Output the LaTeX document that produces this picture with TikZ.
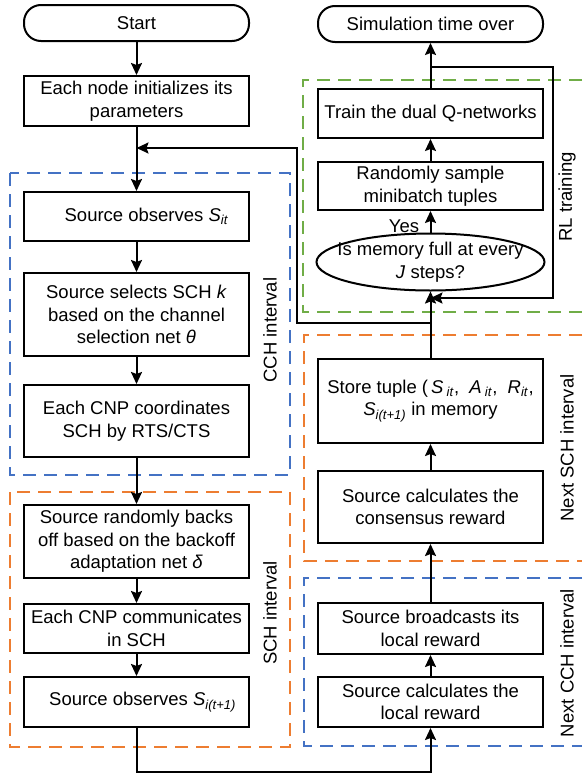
\documentclass[tikz,border=0pt]{standalone}
\usepackage{fontspec}
\setmainfont{Liberation Sans}
\usetikzlibrary{arrows.meta,shapes.geometric}
\definecolor{cblue}{HTML}{4472C4}
\definecolor{corange}{HTML}{ED7D31}
\definecolor{cgreen}{HTML}{70AD47}
\newcommand{\sub}[1]{\textsubscript{\textit{#1}}}
\begin{document}
\begin{tikzpicture}[x=1pt,y=-1pt,
  font=\fontsize{18.5}{22.5}\selectfont,
  box/.style={draw, line width=2pt, minimum width=225pt, align=center, inner sep=0pt},
  term/.style={box, rounded corners=17pt},
  arr/.style={line width=2pt, -{Stealth[length=12pt,width=11pt,inset=2pt]}},
  zone/.style={dash pattern=on 13pt off 8pt, line width=2pt},
  vlabel/.style={rotate=90, inner sep=0pt}]
\useasboundingbox (0,0) rectangle (582,774);

% dashed regions
\draw[zone, cblue] (10,173) rectangle (290,475);
\draw[zone, corange] (10,492) rectangle (290,747);
\draw[zone, cgreen] (582,80) -- (303,80) -- (303,312) -- (582,312);
\draw[zone, corange] (582,335) -- (304,335) -- (304,561) -- (582,561);
\draw[zone, cblue] (582,578) -- (304,578) -- (304,746) -- (582,746);

% left column
\node[term, minimum height=36pt] (start) at (136.5,23) {Start};
\node[box, minimum height=50pt] (init) at (136.5,101) {Each node initializes its\\parameters};
\node[box, minimum height=49pt] (obs) at (136.5,216.5) {\hspace*{20pt}Source observes \textit{S}\sub{it}};
\node[box, minimum height=83pt] (sel) at (136.5,314.5) {Source selects SCH \textit{k}\\based on the channel\\selection net \textit{θ}};
\node[box, minimum height=72pt] (coord) at (136.5,421) {Each CNP coordinates\\SCH by RTS/CTS};
\node[box, minimum height=73pt] (back) at (136.5,541.5) {Source randomly backs\\off based on the backoff\\adaptation net \textit{δ}};
\node[box, minimum height=49pt] (comm) at (136.5,628.5) {Each CNP communicates\\in SCH};
\node[box, minimum height=50pt] (obs2) at (136.5,702) {\hspace*{12pt}Source observes \textit{S}\sub{i(t+1)}};

% right column
\node[term, minimum height=36pt] (sim) at (430.5,24) {Simulation time over};
\node[box, minimum height=49pt] (train) at (430.5,113.5) {Train the dual Q-networks};
\node[box, minimum height=48pt] (sample) at (430.5,186) {Randomly sample\\minibatch tuples};
\node[draw, ellipse, line width=2pt, minimum width=228pt, minimum height=57pt, inner sep=0pt] (ell) at (430.5,262) {};
\node[align=center, inner sep=0pt] (elltext) at (ell.center) {Is memory full at every\\\textit{J} steps?};
\node[box, minimum height=84pt] (store) at (430.5,401) {Store tuple (\,\textit{S}\,\sub{it},\ \ \textit{A}\,\sub{it},\ \ \textit{R}\sub{it},\\\textit{S}\sub{i(t+1)} in memory};
\node[box, minimum height=72pt] (cons) at (430.5,507) {Source calculates the\\consensus reward};
\node[box, minimum height=51pt] (bcast) at (430.5,628.5) {Source broadcasts its\\local reward};
\node[box, minimum height=50pt] (local) at (430.5,702) {Source calculates the\\local reward};

% labels
\node[vlabel] (lcch) at (270,330) {CCH interval};
\node[vlabel] (lsch) at (270,613) {SCH interval};
\node[vlabel] (lrl) at (567,197) {RL training};
\node[vlabel] (lnsch) at (567,448) {Next SCH interval};
\node[vlabel] (lncch) at (567,663) {Next CCH interval};
\node[inner sep=0pt] (yes) at (404,226) {Yes};

% coordinates
\coordinate (m1) at (136.5,148);
\coordinate (b1) at (430.5,323);
\coordinate (b2) at (297,323);
\coordinate (b3) at (297,148);
\coordinate (t1) at (430.5,67);
\coordinate (t2) at (553,67);
\coordinate (t3) at (553,298);
\coordinate (t4) at (430.5,298);
\coordinate (bl) at (136.5,772);
\coordinate (br) at (430.5,772);

% left connectors
\draw[arr] (start) -- (init);
\draw[arr] (init) -- (obs);
\draw[arr] (obs) -- (sel);
\draw[arr] (sel) -- (coord);
\draw[arr] (coord) -- (back);
\draw[arr] (back) -- (comm);
\draw[arr] (comm) -- (obs2);
\draw[arr] (obs2.south) -- (bl) -- (br) -- (local.south);

% right connectors
\draw[arr] (local) -- (bcast);
\draw[arr] (bcast) -- (cons);
\draw[arr] (cons) -- (store);
\draw[arr] (store.north) -- (ell.south);
\draw[arr] (b1) -- (b2) -- (b3) -- (m1);
\draw[arr] (ell) -- (sample);
\draw[arr] (sample) -- (train);
\draw[arr] (train) -- (sim);
\draw[arr] (t1) -- (t2) -- (t3) -- (t4);
\end{tikzpicture}
\end{document}
